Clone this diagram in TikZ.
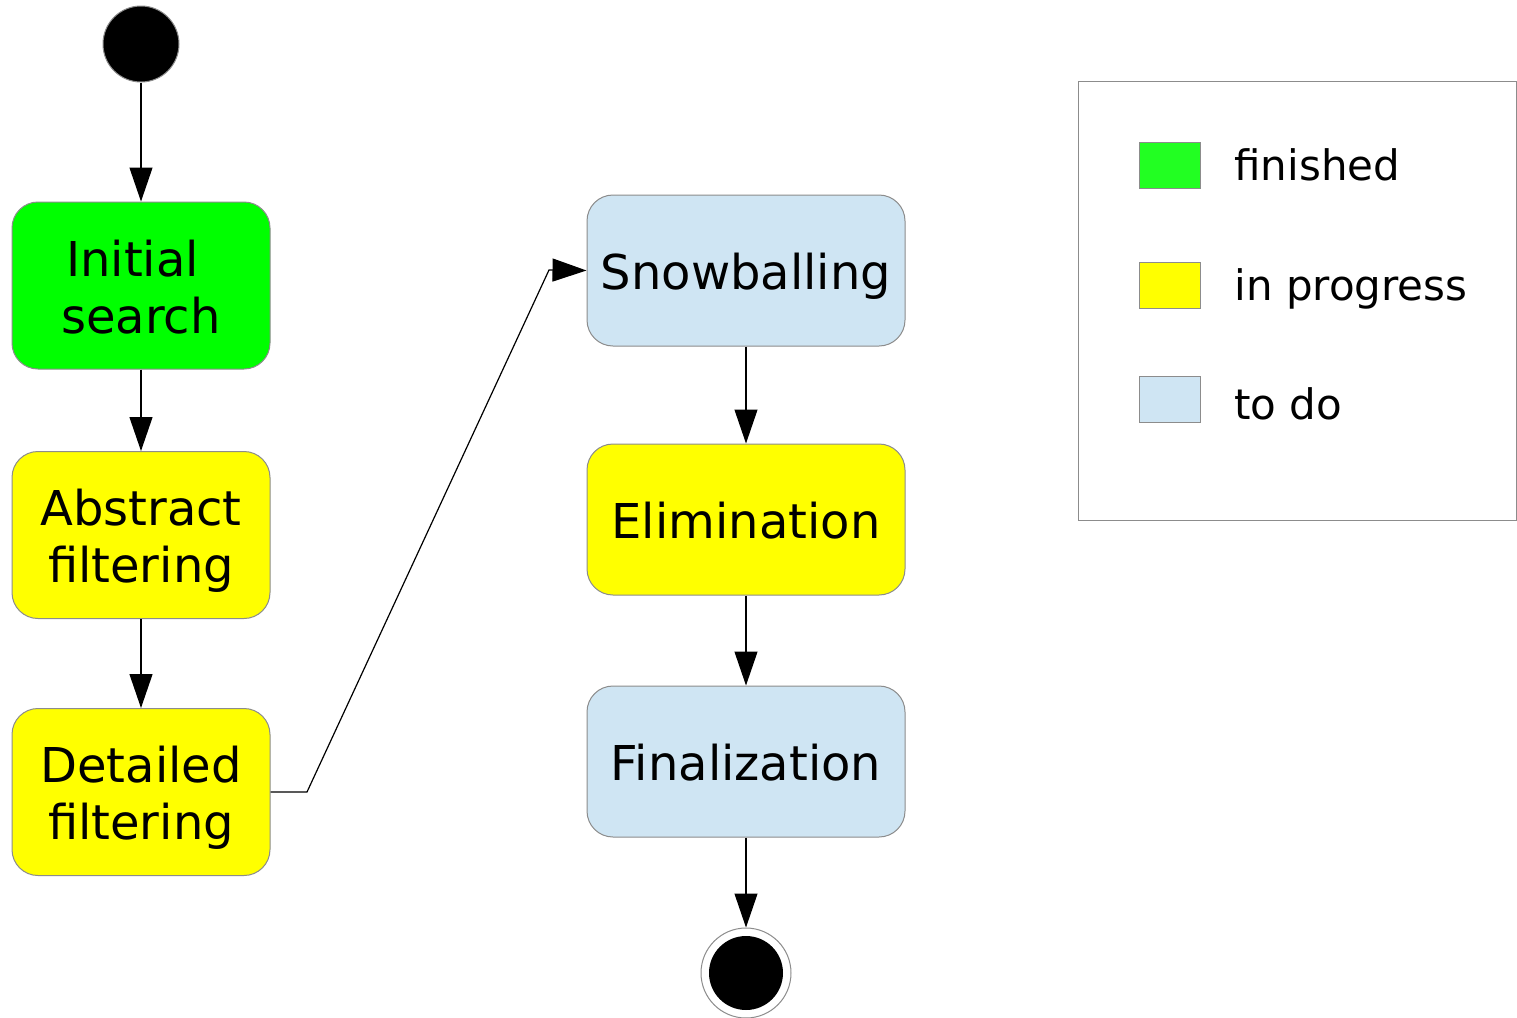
\documentclass[tikz,border=0pt]{standalone}
\usepackage{fontspec}
\setmainfont{DejaVu Sans}
\usetikzlibrary{arrows.meta}
\definecolor{done}{HTML}{00FF00}
\definecolor{donelegend}{HTML}{22FF22}
\definecolor{prog}{HTML}{FFFF00}
\definecolor{todo}{HTML}{CFE5F3}
\definecolor{edgegray}{HTML}{8C8C8C}
\newcommand{\steplbl}[1]{\raisebox{-4pt}[\height][\depth]{\begin{tabular}{@{}c@{}}#1\end{tabular}}}
\tikzset{
  x=0.5pt,y=-0.5pt,
  stepbox/.style={draw=edgegray,line width=0.5pt,rounded corners=13pt,inner sep=0pt,
    font=\fontsize{24}{28.5}\selectfont},
  leftbox/.style={stepbox,minimum width=129pt,minimum height=83.5pt},
  rightbox/.style={stepbox,minimum width=159pt,minimum height=75.5pt},
  conn/.style={draw=black,line width=0.6pt,-{Triangle[length=17pt,width=11.5pt]}},
  swatch/.style={draw=edgegray,line width=0.5pt,minimum width=30.5pt,minimum height=23pt,inner sep=0pt},
  legtext/.style={anchor=base west,inner sep=0pt,font=\fontsize{21}{25}\selectfont},
}
\begin{document}
\begin{tikzpicture}
\useasboundingbox (0,0) rectangle (1517,1018);
\fill[white] (0,0) rectangle (1517,1018);
% start
\node[circle,fill=black,draw=edgegray,line width=0.5pt,minimum size=38pt,inner sep=0pt] (start) at (141,44) {};
% left column
\node[leftbox,fill=done] (init) at (141,285.5) {\steplbl{Initial\hspace*{0.35em}\\search}};
\node[leftbox,fill=prog] (abs) at (141,535) {\steplbl{Abstract\\filtering}};
\node[leftbox,fill=prog] (det) at (141,792) {\steplbl{Detailed\\filtering}};
% right column
\node[rightbox,fill=todo] (snow) at (746,270.5) {\steplbl{Snowballing}};
\node[rightbox,fill=prog] (elim) at (746,519.5) {\steplbl{Elimination}};
\node[rightbox,fill=todo] (fin) at (746,761.5) {\steplbl{Finalization}};
% end
\node[circle,fill=white,draw=edgegray,line width=0.5pt,minimum size=45pt,inner sep=0pt] (endo) at (746,973) {};
\node[circle,fill=black,minimum size=37pt,inner sep=0pt] (endi) at (746,973) {};
% connectors
\draw[conn] (start) -- (init);
\draw[conn] (init) -- (abs);
\draw[conn] (abs) -- (det);
\coordinate (k1) at (307,792);
\coordinate (k2) at (549,270);
\draw[conn] (det.east) -- (k1) -- (k2) -- (snow.west);
\draw[conn] (snow) -- (elim);
\draw[conn] (elim) -- (fin);
\draw[conn] (fin) -- (endo);
% legend
\node[draw=edgegray,line width=0.5pt,minimum width=219pt,minimum height=219.5pt,inner sep=0pt] (legend) at (1297,300.5) {};
\node[swatch,fill=donelegend] (s1) at (1169.5,165) {};
\node[swatch,fill=prog] (s2) at (1169.5,285) {};
\node[swatch,fill=todo] (s3) at (1169.5,399) {};
\node[legtext] (t1) at (1234,180) {finished};
\node[legtext] (t2) at (1234,300) {in progress};
\node[legtext] (t3) at (1234,419) {to do};
\end{tikzpicture}
\end{document}
